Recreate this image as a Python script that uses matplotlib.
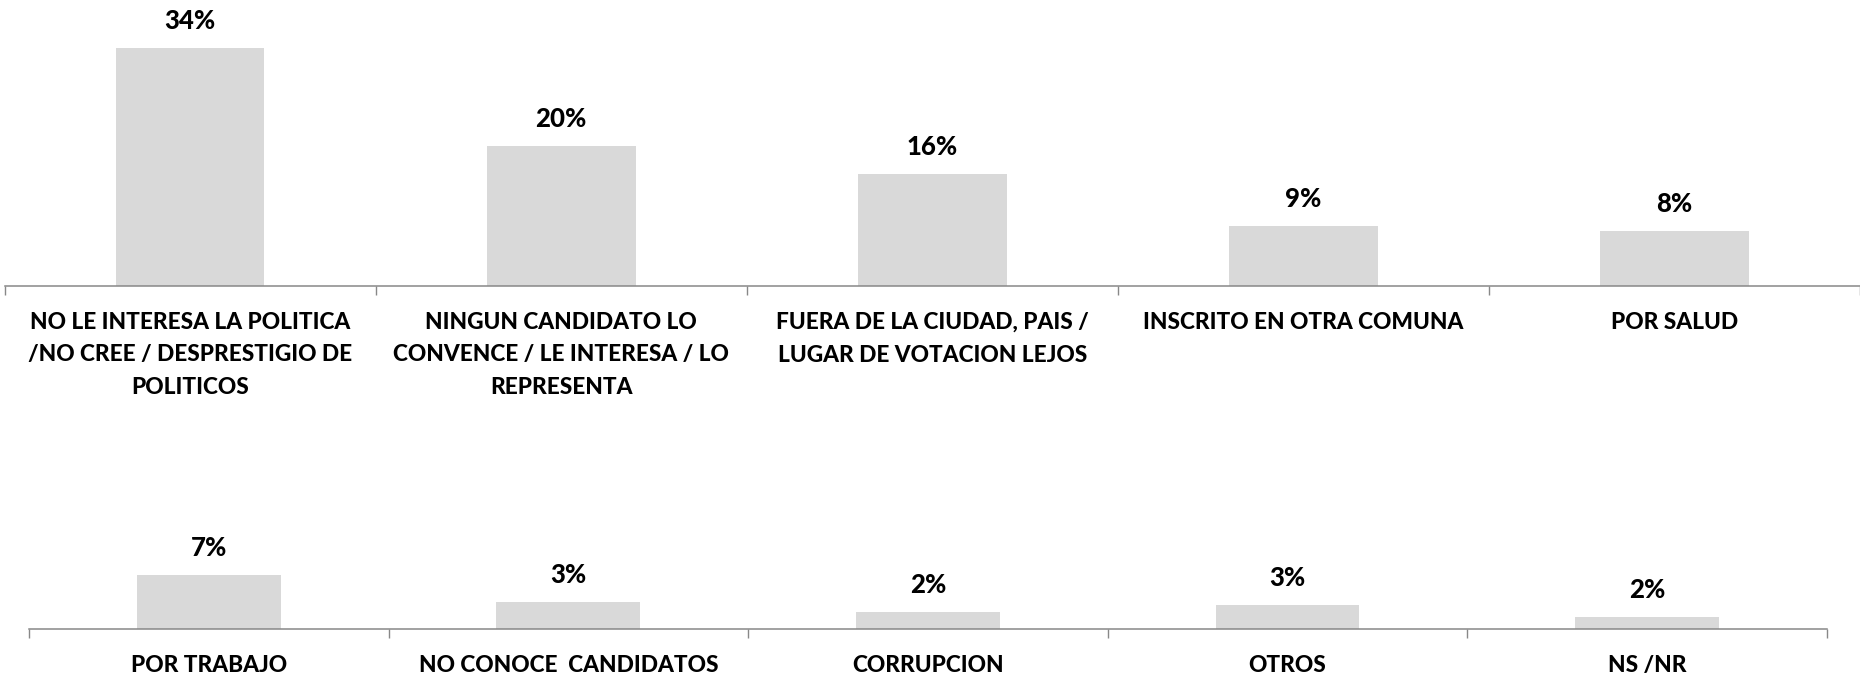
import matplotlib
matplotlib.use("Agg")
import matplotlib.pyplot as plt
import numpy as np

# ---- data ----
top_categories = [
    "NO LE INTERESA LA POLITICA\n/NO CREE / DESPRESTIGIO DE\nPOLITICOS",
    "NINGUN CANDIDATO LO\nCONVENCE / LE INTERESA / LO\nREPRESENTA",
    "FUERA DE LA CIUDAD, PAIS /\nLUGAR DE VOTACION LEJOS",
    "INSCRITO EN OTRA COMUNA",
    "POR SALUD",
]
top_values = [34.0, 20.0, 16.0, 8.6, 7.9]

bottom_categories = [
    "POR TRABAJO",
    "NO CONOCE  CANDIDATOS",
    "CORRUPCION",
    "OTROS",
    "NS /NR",
]
bottom_values = [6.8, 3.4, 2.2, 3.1, 1.52]

# ---- style ----
W, H = 1860, 674
DPI = 100
BAR_COLOR = "#D9D9D9"
AXIS_COLOR = "#888888"
FONT = ["Lato", "DejaVu Sans"]
plt.rcParams["font.family"] = FONT

fig = plt.figure(figsize=(W / DPI, H / DPI), dpi=DPI)
PX = 72.0 / DPI  # points per pixel


def panel(left_px, right_px, axis_y_px, top_px, px_per_unit, cats, vals):
    ax = fig.add_axes([left_px / W, (H - axis_y_px) / H,
                       (right_px - left_px) / W, (axis_y_px - top_px) / H])
    n = len(cats)
    x = np.arange(n)
    ax.bar(x, vals, width=0.4, color=BAR_COLOR, zorder=2)
    ax.set_xlim(-0.5, n - 0.5)
    ax.set_ylim(0, (axis_y_px - top_px) / px_per_unit)
    for s in ("top", "right", "left"):
        ax.spines[s].set_visible(False)
    ax.spines["bottom"].set_color(AXIS_COLOR)
    ax.spines["bottom"].set_linewidth(1.1)
    ax.set_yticks([])
    ax.set_xticks(np.arange(n + 1) - 0.5)
    ax.set_xticklabels([])
    ax.tick_params(axis="x", direction="out", length=6.5, width=1.0,
                   color=AXIS_COLOR)
    for xi, v in zip(x, vals):
        ax.annotate(f"{v:.0f}%", xy=(xi, v), xytext=(0, 27 * PX),
                    textcoords="offset points", ha="center", va="center",
                    fontsize=18.5, fontweight=900, color="black")
    for xi, lab in zip(x, cats):
        for k, line in enumerate(lab.split("\n")):
            ax.annotate(line, xy=(xi, 0),
                        xytext=(0, -(43 + 32.5 * k) * PX),
                        textcoords="offset points", ha="center",
                        va="baseline", fontsize=16.3, fontweight=900,
                        color="black")
    return ax


panel(4.7, 1860.0, 286.0, 0.0, 6.99, top_categories, top_values)
panel(28.9, 1827.0, 629.0, 400.0, 7.9, bottom_categories, bottom_values)

fig.savefig("out.png", dpi=DPI)
